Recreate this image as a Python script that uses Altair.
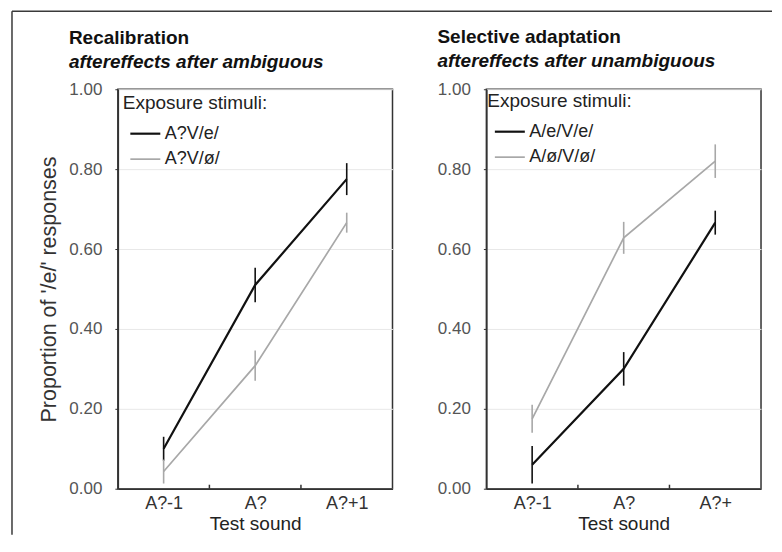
import json
import altair as alt
import pandas as pd

# ---------------- data ----------------
test_sounds_left = ["A?-1", "A?", "A?+1"]
test_sounds_right = ["A?-1", "A?", "A?+"]

left_series = ["A?V/e/", "A?V/ø/"]
left_e = [0.10, 0.51, 0.775]
left_e_err = [0.03, 0.043, 0.04]
left_o = [0.043, 0.308, 0.666]
left_o_err = [0.03, 0.038, 0.025]

right_series = ["A/e/V/e/", "A/ø/V/ø/"]
right_e = [0.06, 0.30, 0.666]
right_e_err = [0.047, 0.042, 0.03]
right_o = [0.175, 0.628, 0.82]
right_o_err = [0.035, 0.04, 0.042]

y_ticks = [0.0, 0.2, 0.4, 0.6, 0.8, 1.0]
band_edges = [0.5, 1.5]
series_colors = ["#111111", "#a8a8a8"]
series_widths = [2.2, 1.7]

FONT = "Liberation Sans"
W, H = 275, 400


def panel(sounds, series, vals, errs, title, subtitle, y_title, leg_x, leg_y,
          frame=False, title_dy=0):
    rows = []
    for s, v, e in zip(series, vals, errs):
        for i, snd in enumerate(sounds):
            rows.append(dict(xi=i, sound=snd, series=s, value=v[i],
                             lo=v[i] - e[i], hi=v[i] + e[i]))
    df = pd.DataFrame(rows)
    idx = list(range(len(sounds)))
    label_expr = json.dumps(sounds) + "[datum.value]"

    x_scale = alt.Scale(domain=[-0.5, len(sounds) - 0.5], nice=False, zero=False)
    x_axis = alt.Axis(values=idx, labelExpr=label_expr, ticks=False, grid=False,
                      title="Test sound", labelFontSize=18, labelColor="#333",
                      labelPadding=6, titleFontSize=19, titleFontWeight="normal",
                      titleColor="#222", titlePadding=2)
    y_scale = alt.Scale(domain=[0, 1], nice=False, zero=False)
    y_axis_kw = dict(values=y_ticks, format=".2f", grid=True, gridColor="#e8e8e8",
                     gridWidth=1, tickSize=3, tickColor="#333", labelFontSize=17,
                     labelColor="#555", labelPadding=13)
    if y_title:
        y_axis = alt.Axis(title=y_title, titleFontSize=21.5, titleFontWeight="normal",
                          titleColor="#333", titlePadding=8, **y_axis_kw)
    else:
        y_axis = alt.Axis(title=None, **y_axis_kw)

    color = alt.Color(
        "series:N",
        scale=alt.Scale(domain=series, range=series_colors),
        legend=alt.Legend(orient="none", legendX=leg_x, legendY=leg_y,
                          title="Exposure stimuli:", titleFontSize=19,
                          titleFontWeight="normal", titleColor="#222",
                          labelFontSize=18, labelColor="#222", symbolType="stroke",
                          symbolSize=900, symbolStrokeWidth=2, symbolOffset=6,
                          labelOffset=3, rowPadding=-8, titlePadding=4, padding=0),
    )
    swidth = alt.StrokeWidth("series:N",
                             scale=alt.Scale(domain=series, range=series_widths),
                             legend=None)

    base = alt.Chart(df)
    lines = base.mark_line().encode(
        x=alt.X("xi:Q", scale=x_scale, axis=x_axis),
        y=alt.Y("value:Q", scale=y_scale, axis=y_axis),
        color=color,
        strokeWidth=swidth,
    )
    errbars = base.mark_rule(strokeWidth=1.6).encode(
        x=alt.X("xi:Q", scale=x_scale, axis=x_axis),
        y=alt.Y("lo:Q", scale=y_scale, axis=y_axis),
        y2="hi:Q",
        color=alt.Color("series:N", scale=alt.Scale(domain=series, range=series_colors),
                        legend=None),
    )
    ticks = alt.Chart(pd.DataFrame({"edge": band_edges})).mark_rule(
        color="#333", strokeWidth=1.5
    ).encode(
        x=alt.X("edge:Q", scale=x_scale, axis=x_axis),
        y=alt.value(H),
        y2=alt.value(H - 4),
    )
    layers = [lines, errbars, ticks]
    if frame:
        one = alt.Chart(pd.DataFrame({"k": [0]}))
        top = one.mark_rule(color="#3a3a3a", strokeWidth=1.5).encode(
            x=alt.value(-106), x2=alt.value(655), y=alt.value(-78))
        left = one.mark_rule(color="#3a3a3a", strokeWidth=1.5).encode(
            x=alt.value(-106), y=alt.value(-78), y2=alt.value(446))
        layers += [top, left]

    return alt.layer(*layers).properties(
        width=W, height=H,
        title=alt.TitleParams(text=title, subtitle=subtitle, anchor="start",
                              frame="group", dx=-49, dy=title_dy, fontSize=19,
                              fontWeight="bold", color="#111", subtitleFontSize=19,
                              subtitleFontWeight="bold", subtitleFontStyle="italic",
                              subtitleColor="#111", subtitlePadding=5, offset=9),
    ).resolve_scale(color="shared")


left_panel = panel(test_sounds_left, left_series, [left_e, left_o],
                   [left_e_err, left_o_err], "Recalibration",
                   "aftereffects after ambiguous", "Proportion of '/e/' responses",
                   5, 5, frame=True, title_dy=70)
right_panel = panel(test_sounds_right, right_series, [right_e, right_o],
                    [right_e_err, right_o_err], "Selective adaptation",
                    "aftereffects after unambiguous", None, 1, 3)

chart = alt.hconcat(left_panel, right_panel, spacing=94, bounds="flush").resolve_scale(
    color="independent", strokeWidth="independent"
).properties(
    padding={"left": 2, "top": 1, "right": 0, "bottom": 0},
    background="white",
).configure(font=FONT).configure_view(
    stroke="#333", strokeWidth=1.5
).configure_axis(
    domainColor="#333", domainWidth=1.5, labelFont=FONT, titleFont=FONT
).configure_legend(labelFont=FONT, titleFont=FONT).configure_title(font=FONT, subtitleFont=FONT)

chart.save("out.html", embed_options={"renderer": "svg", "actions": False})
